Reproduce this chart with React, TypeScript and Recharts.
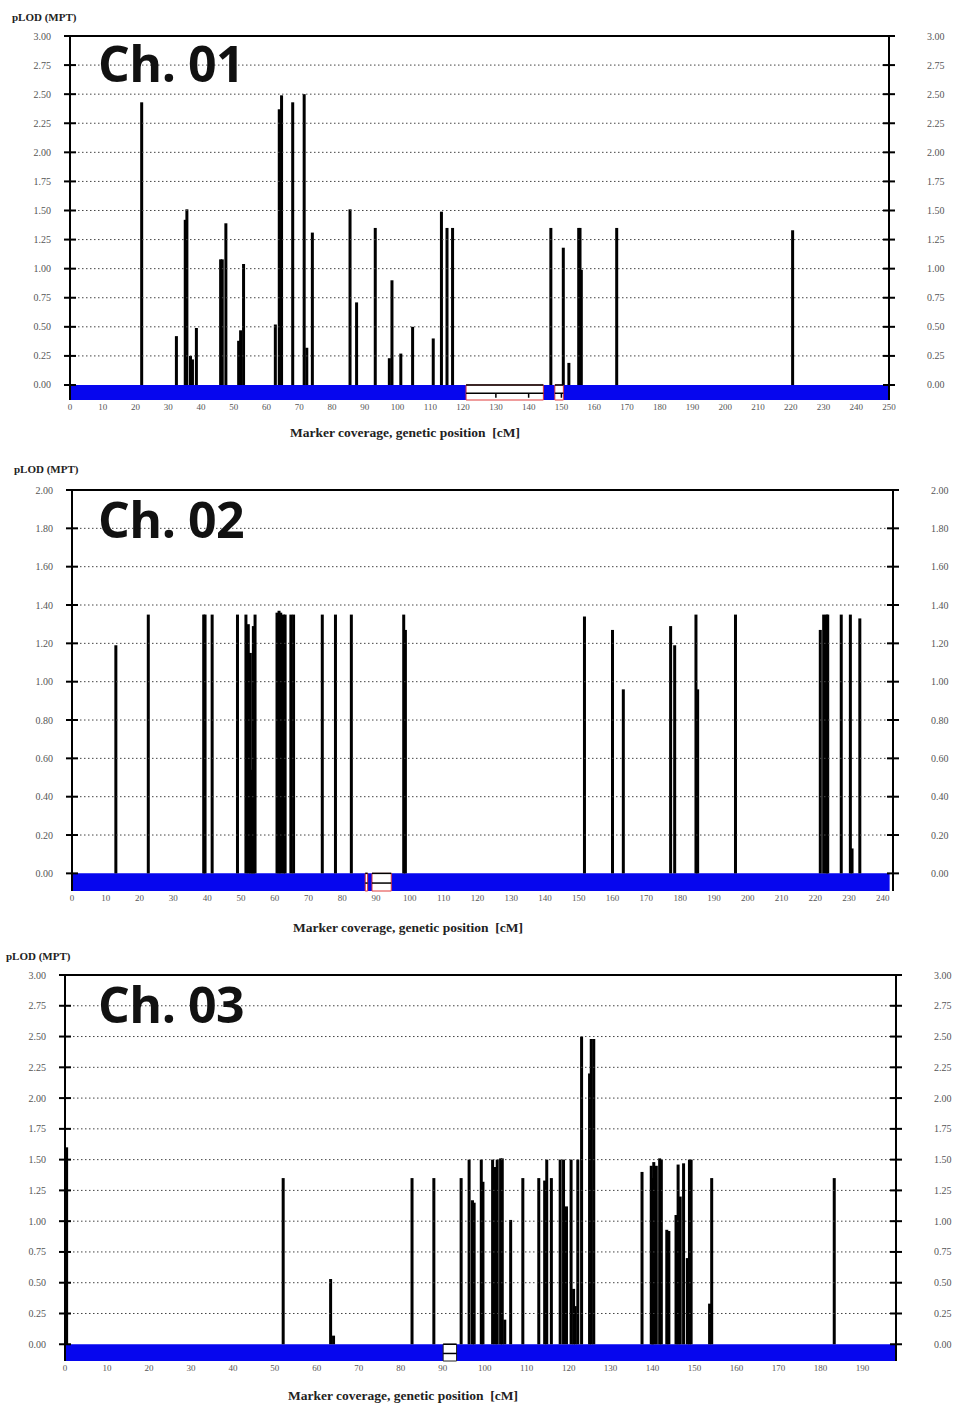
import React from 'react';
import { ComposedChart, Bar, XAxis, YAxis, ReferenceLine, ReferenceArea } from 'recharts';

// ---------- Data ----------
const ch1Pos = [21.9, 32.5, 35.2, 35.7, 36.8, 37.4, 38.6, 46.0, 46.5, 47.6, 51.5, 52.1, 53.0, 62.7, 63.9, 64.6, 68.0, 71.5, 72.3, 74.0, 85.5, 87.5, 93.2, 97.5, 98.3, 101.0, 104.6, 110.9, 113.4, 115.1, 116.8, 146.8, 150.6, 152.3, 155.3, 155.7, 156.1, 166.9, 220.6];
const ch1Lod = [2.43, 0.42, 1.42, 1.51, 0.25, 0.22, 0.49, 1.08, 1.08, 1.39, 0.38, 0.47, 1.04, 0.52, 2.37, 2.49, 2.43, 2.50, 0.32, 1.31, 1.51, 0.71, 1.35, 0.23, 0.90, 0.27, 0.50, 0.40, 1.49, 1.35, 1.35, 1.35, 1.18, 0.19, 1.35, 1.35, 0.99, 1.35, 1.33];

const ch2Pos = [13.0, 22.6, 39.0, 39.4, 41.5, 49.0, 51.5, 52.2, 52.8, 53.3, 53.7, 54.2, 60.7, 61.3, 61.8, 62.6, 63.1, 64.8, 65.6, 74.1, 78.0, 82.7, 98.2, 98.7, 151.7, 160.0, 163.2, 177.2, 178.4, 184.7, 185.2, 196.4, 221.5, 222.5, 223.3, 223.7, 227.7, 230.4, 230.9, 233.2];
const ch2Lod = [1.19, 1.35, 1.35, 1.35, 1.35, 1.35, 1.35, 1.30, 1.15, 0.54, 1.29, 1.35, 1.36, 1.37, 1.36, 1.35, 1.35, 1.35, 1.35, 1.35, 1.35, 1.35, 1.35, 1.27, 1.34, 1.27, 0.96, 1.29, 1.19, 1.35, 0.96, 1.35, 1.27, 1.35, 1.35, 1.35, 1.35, 1.35, 0.13, 1.33];

const ch3Pos = [0.4, 52.0, 63.3, 64.0, 82.7, 87.9, 94.4, 96.3, 97.1, 97.5, 99.2, 99.6, 101.9, 102.5, 103.0, 103.8, 104.2, 104.8, 106.2, 109.1, 112.9, 114.3, 114.8, 115.9, 118.0, 118.8, 119.5, 120.6, 121.2, 121.6, 122.2, 123.1, 125.0, 125.4, 126.0, 137.5, 139.7, 140.0, 140.3, 140.9, 141.7, 142.1, 143.4, 143.9, 145.6, 146.1, 146.6, 147.4, 148.3, 148.8, 149.2, 153.6, 154.1, 183.3];
const ch3Lod = [1.60, 1.35, 0.53, 0.07, 1.35, 1.35, 1.35, 1.50, 1.17, 1.15, 1.50, 1.32, 1.50, 1.44, 1.50, 1.51, 1.51, 0.20, 1.01, 1.35, 1.35, 1.33, 1.50, 1.35, 1.50, 1.50, 1.12, 1.50, 0.45, 0.31, 1.50, 2.50, 2.20, 2.48, 2.48, 1.40, 1.45, 1.35, 1.48, 1.45, 1.51, 1.50, 0.93, 0.92, 1.05, 1.46, 1.20, 1.47, 0.70, 1.50, 1.50, 0.33, 1.35, 1.35];

const ch1XTicks = [0, 10, 20, 30, 40, 50, 60, 70, 80, 90, 100, 110, 120, 130, 140, 150, 160, 170, 180, 190, 200, 210, 220, 230, 240, 250];
const ch2XTicks = [0, 10, 20, 30, 40, 50, 60, 70, 80, 90, 100, 110, 120, 130, 140, 150, 160, 170, 180, 190, 200, 210, 220, 230, 240];
const ch3XTicks = [0, 10, 20, 30, 40, 50, 60, 70, 80, 90, 100, 110, 120, 130, 140, 150, 160, 170, 180, 190];

const yTicks3 = [0, 0.25, 0.5, 0.75, 1.0, 1.25, 1.5, 1.75, 2.0, 2.25, 2.5, 2.75, 3.0];
const yTicks2 = [0, 0.2, 0.4, 0.6, 0.8, 1.0, 1.2, 1.4, 1.6, 1.8, 2.0];

// marker coverage band: [start, end] of coverage and uncovered gaps
const ch1Band = [0, 250];
const ch1Gaps = [[120.9, 144.5], [148.0, 150.6]];
const ch2Band = [0, 242];
const ch2Gaps = [[86.8, 87.5], [88.8, 94.5]];
const ch3Band = [0, 198];
const ch3Gaps = [[90.1, 93.3]];

const titles = ['Ch. 01', 'Ch. 02', 'Ch. 03'];
const yTitle = 'pLOD (MPT)';
const xTitle = 'Marker coverage, genetic position\u00a0\u00a0[cM]';

// ---------- Helpers ----------
const SERIF = '"Liberation Serif", "DejaVu Serif", serif';
const BLUE = '#0606ee';

const Stick = (props: any) => {
  const { x, y, width, height } = props;
  if (x == null || y == null || height == null) return null;
  const cx = x + (width || 0) / 2;
  return <rect x={cx - 1.5} y={y} width={3} height={Math.max(height, 0)} fill="#000" />;
};

const LeftTick = (props: any) => {
  const { x, y, payload } = props;
  return (
    <g>
      <line x1={x - 6} x2={x + 6} y1={y} y2={y} stroke="#000" strokeWidth={2} />
      <text x={x - 19} y={y} textAnchor="end" dominantBaseline="central" fontSize={10} fill="#555" fontFamily={SERIF}>
        {Number(payload.value).toFixed(2)}
      </text>
    </g>
  );
};

const RightTick = (props: any) => {
  const { x, y, payload } = props;
  return (
    <g>
      <line x1={x - 6} x2={x + 6} y1={y} y2={y} stroke="#000" strokeWidth={2} />
      <text x={x + 38} y={y} textAnchor="start" dominantBaseline="central" fontSize={10} fill="#555" fontFamily={SERIF}>
        {Number(payload.value).toFixed(2)}
      </text>
    </g>
  );
};

const BottomTick = (props: any) => {
  const { x, y, payload } = props;
  return (
    <text x={x} y={y + 7} textAnchor="middle" dominantBaseline="central" fontSize={9} fill="#555" fontFamily={SERIF}>
      {payload.value}
    </text>
  );
};

type PanelProps = {
  pos: number[];
  lod: number[];
  xTicks: number[];
  yTicks: number[];
  xMax: number;
  yMin: number;
  band: number[];
  gaps: number[][];
  gapEdge: string;
  showGapTicks: boolean;
  top: number;
  height: number;
  plotTop: number;
  plotBottom: number;
  plotLeft: number;
  plotRight: number;
  title: string;
  yTitlePos: [number, number];
  titlePos: [number, number];
  xTitlePos: [number, number];
};

const W = 958;

function Panel(p: PanelProps) {
  const data = p.pos.map((x, i) => ({ x, v: p.lod[i] }));
  const yMax = p.yTicks[p.yTicks.length - 1];
  const margin = {
    top: p.plotTop - p.top,
    left: p.plotLeft - 60,
    right: W - p.plotRight - 60,
    bottom: p.height - (p.plotBottom - p.top) - 30,
  };
  const mid = p.yMin * 0.55;
  return (
    <>
      <div style={{ position: 'absolute', left: 0, top: p.top, width: W, height: p.height }}>
        <ComposedChart width={W} height={p.height} data={data} margin={margin}>
          <XAxis
            dataKey="x"
            type="number"
            domain={[0, p.xMax]}
            ticks={p.xTicks}
            interval={0}
            allowDataOverflow
            axisLine={false}
            tickLine={false}
            tickSize={0}
            tickMargin={0}
            height={30}
            tick={<BottomTick />}
          />
          <YAxis
            yAxisId="l"
            type="number"
            domain={[p.yMin, yMax]}
            ticks={p.yTicks}
            interval={0}
            allowDataOverflow
            width={60}
            axisLine={{ stroke: '#000', strokeWidth: 2 }}
            tickLine={false}
            tickSize={0}
            tickMargin={0}
            tick={<LeftTick />}
          />
          <YAxis
            yAxisId="r"
            orientation="right"
            type="number"
            domain={[p.yMin, yMax]}
            ticks={p.yTicks}
            interval={0}
            allowDataOverflow
            width={60}
            axisLine={{ stroke: '#000', strokeWidth: 2 }}
            tickLine={false}
            tickSize={0}
            tickMargin={0}
            tick={<RightTick />}
          />
          {p.yTicks.slice(1, -1).map((t) => (
            <ReferenceLine key={'g' + t} yAxisId="l" y={t} stroke="#444" strokeWidth={1} strokeDasharray="1.5 2.5" />
          ))}
          <ReferenceLine yAxisId="l" y={yMax} stroke="#000" strokeWidth={2} />
          <ReferenceArea yAxisId="l" x1={p.band[0]} x2={p.band[1]} y1={p.yMin} y2={0} fill={BLUE} fillOpacity={1} stroke="none" />
          {p.gaps.map((g, i) => (
            <ReferenceArea key={'gap' + i} yAxisId="l" x1={g[0]} x2={g[1]} y1={p.yMin} y2={0} fill="#fff" fillOpacity={1} stroke={p.gapEdge} strokeWidth={1} />
          ))}
          {p.gaps.map((g, i) => (
            <ReferenceLine key={'gt' + i} yAxisId="l" segment={[{ x: g[0], y: 0 }, { x: g[1], y: 0 }]} stroke="#000" strokeWidth={1.5} />
          ))}
          {p.gaps.map((g, i) => (
            <ReferenceLine key={'gm' + i} yAxisId="l" segment={[{ x: g[0], y: mid }, { x: g[1], y: mid }]} stroke="#000" strokeWidth={1.5} />
          ))}
          {p.showGapTicks &&
            p.xTicks
              .filter((t) => p.gaps.some((g) => t > g[0] && t < g[1]))
              .map((t) => (
                <ReferenceLine key={'gk' + t} yAxisId="l" segment={[{ x: t, y: mid }, { x: t, y: p.yMin * 0.85 }]} stroke="#000" strokeWidth={1.5} />
              ))}
          <Bar yAxisId="l" dataKey="v" barSize={3} shape={<Stick />} isAnimationActive={false} />
        </ComposedChart>
      </div>
      <div
        style={{
          position: 'absolute',
          left: p.yTitlePos[0],
          top: p.yTitlePos[1],
          fontFamily: SERIF,
          fontWeight: 'bold',
          fontSize: 11,
          color: '#222',
          whiteSpace: 'nowrap',
          lineHeight: '12px',
        }}
      >
        {yTitle}
      </div>
      <div
        style={{
          position: 'absolute',
          left: p.titlePos[0],
          top: p.titlePos[1],
          fontFamily: '"Open Sans", "Noto Sans", sans-serif',
          fontWeight: 'bold',
          fontSize: 50,
          letterSpacing: -0.5,
          color: '#111',
          whiteSpace: 'nowrap',
          lineHeight: '50px',
        }}
      >
        {p.title}
      </div>
      <div
        style={{
          position: 'absolute',
          left: p.xTitlePos[0],
          top: p.xTitlePos[1],
          fontFamily: SERIF,
          fontWeight: 'bold',
          fontSize: 13.5,
          color: '#222',
          whiteSpace: 'nowrap',
          lineHeight: '14px',
        }}
      >
        {xTitle}
      </div>
    </>
  );
}

export default function App() {
  return (
    <div style={{ position: 'absolute', left: 0, top: 0, width: W, height: 1405, background: '#fff', overflow: 'hidden' }}>
      <Panel
        pos={ch1Pos}
        lod={ch1Lod}
        xTicks={ch1XTicks}
        yTicks={yTicks3}
        xMax={250}
        yMin={-0.129}
        band={ch1Band}
        gaps={ch1Gaps}
        gapEdge="#e03a3a"
        showGapTicks={true}
        top={0}
        height={440}
        plotTop={36}
        plotBottom={400}
        plotLeft={70}
        plotRight={889}
        title={titles[0]}
        yTitlePos={[12, 11]}
        titlePos={[98, 38]}
        xTitlePos={[290, 426]}
      />
      <Panel
        pos={ch2Pos}
        lod={ch2Lod}
        xTicks={ch2XTicks}
        yTicks={yTicks2}
        xMax={243}
        yMin={-0.092}
        band={ch2Band}
        gaps={ch2Gaps}
        gapEdge="#e03a3a"
        showGapTicks={false}
        top={460}
        height={470}
        plotTop={490}
        plotBottom={891}
        plotLeft={72}
        plotRight={893}
        title={titles[1]}
        yTitlePos={[14, 463]}
        titlePos={[98, 494]}
        xTitlePos={[293, 921]}
      />
      <Panel
        pos={ch3Pos}
        lod={ch3Lod}
        xTicks={ch3XTicks}
        yTicks={yTicks3}
        xMax={198}
        yMin={-0.136}
        band={ch3Band}
        gaps={ch3Gaps}
        gapEdge="#222"
        showGapTicks={false}
        top={945}
        height={460}
        plotTop={975}
        plotBottom={1361}
        plotLeft={65}
        plotRight={896}
        title={titles[2]}
        yTitlePos={[6, 950]}
        titlePos={[98, 979]}
        xTitlePos={[288, 1389]}
      />
    </div>
  );
}
